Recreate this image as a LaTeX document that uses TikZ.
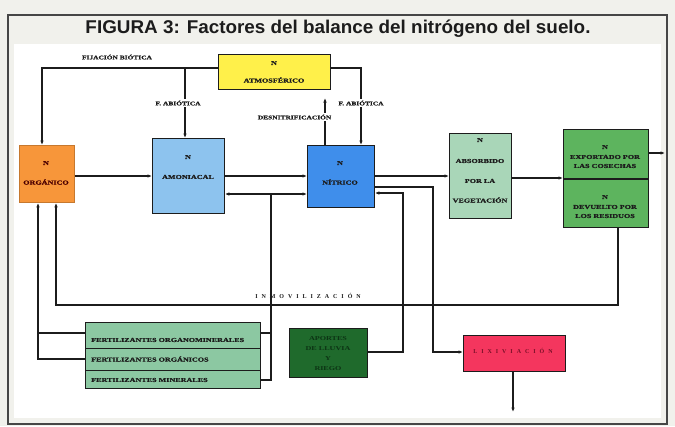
\documentclass[tikz,border=0pt]{standalone}
\usepackage{fontspec}
\usepackage{graphicx}
\usetikzlibrary{arrows.meta}
\newfontfamily\titlefont{Liberation Sans}
\newfontfamily\bx[FakeStretch=1.35,FakeBold=1.2]{Liberation Serif}
\newfontfamily\bxplain[FakeStretch=1.35]{Liberation Serif}
\newfontfamily\spc[LetterSpace=66]{Liberation Serif}
\definecolor{bg}{HTML}{F1F1EC}
\definecolor{yel}{HTML}{FFF04A}
\definecolor{ora}{HTML}{F7963A}
\definecolor{lblue}{HTML}{8DC3EE}
\definecolor{dblue}{HTML}{3F8EEB}
\definecolor{pgreen}{HTML}{A9D6B8}
\definecolor{mgreen}{HTML}{5DB45E}
\definecolor{fgreen}{HTML}{8CC8A2}
\definecolor{dgreen}{HTML}{1F6A2C}
\definecolor{rred}{HTML}{F4365E}
\definecolor{ink}{HTML}{1C1C1C}
\definecolor{dtxt}{HTML}{0C3414}
\definecolor{rtxt}{HTML}{7A1028}
\begin{document}
\begin{tikzpicture}[x=1pt,y=-1pt,
  box/.style={draw=ink, line width=0.9pt, anchor=north west, inner sep=0pt},
  txt/.style={font=\bx\bfseries\fontsize{6}{7}\selectfont, text=ink, inner sep=0pt},
  dtx/.style={font=\bxplain\bfseries\fontsize{6}{7}\selectfont, text=dtxt, inner sep=0pt},
  lab/.style={font=\bx\bfseries\fontsize{5.5}{6}\selectfont, text=ink, inner sep=1.5pt},
  ln/.style={line width=1.1pt, draw=ink},
  arr/.style={line width=1.1pt, draw=ink, -{Latex[length=4.5pt,width=3.6pt]}},
  arrb/.style={line width=1.1pt, draw=ink, {Latex[length=4.5pt,width=3.6pt]}-{Latex[length=4.5pt,width=3.6pt]}}]
\useasboundingbox (0,0) rectangle (675,426);
\fill[bg] (0,0) rectangle (675,426);
\draw[gray!55!black, line width=1.2pt] (8,15) rectangle (667,424);
\fill[white] (14,44) rectangle (661,418);

% title
\node[font=\titlefont\bfseries\fontsize{18.5}{20}\selectfont, text=ink] (title) at (338,29)
  {\resizebox{505pt}{\height}{FIGURA 3: Factores del balance del nitrógeno del suelo.}};

% boxes
\node[box, fill=yel, minimum width=112pt, minimum height=35pt] (atm) at (218,54) {};
\node[box, fill=ora, draw=ora!80!black, minimum width=55pt, minimum height=57pt] (org) at (19,145) {};
\node[box, fill=lblue, minimum width=72pt, minimum height=75pt] (amo) at (152,138) {};
\node[box, fill=dblue, minimum width=67pt, minimum height=62pt] (nit) at (307,145) {};
\node[box, fill=pgreen, minimum width=62pt, minimum height=85pt] (abs) at (449,133) {};
\node[box, fill=mgreen, minimum width=85pt, minimum height=98pt] (grn) at (563,129) {};
\node[box, fill=fgreen, minimum width=175pt, minimum height=26pt] (f1) at (85,322) {};
\node[box, fill=fgreen, minimum width=175pt, minimum height=22pt] (f2) at (85,348) {};
\node[box, fill=fgreen, minimum width=175pt, minimum height=18pt] (f3) at (85,370) {};
\node[box, fill=dgreen, minimum width=78pt, minimum height=49pt] (dgr) at (289,328) {};
\node[box, fill=rred, minimum width=102pt, minimum height=36pt] (lix) at (463,335) {};
\draw[ln] (grn.west |- 0,179) -- (grn.east |- 0,179);

% box texts
\node[txt] (atmN) at (274,63) {N};
\node[txt] (atmT) at (274,80) {ATMOSFÉRICO};
\node[txt, text=black!70!red] (orgN) at (46,163) {N};
\node[txt, text=black!70!red] (orgT) at (46,182) {ORGÁNICO};
\node[txt] (amoN) at (188,157) {N};
\node[txt] (amoT) at (188,177) {AMONIACAL};
\node[txt] (nitN) at (340,163) {N};
\node[txt] (nitT) at (340,182) {NÍTRICO};
\node[txt] (absN) at (480,140) {N};
\node[txt] (absA) at (480,161) {ABSORBIDO};
\node[txt] (absB) at (480,181) {POR LA};
\node[txt] (absC) at (480,200) {VEGETACIÓN};
\node[txt] (gaN) at (605,147) {N};
\node[txt] (gaA) at (605,157) {EXPORTADO POR};
\node[txt] (gaB) at (605,166) {LAS COSECHAS};
\node[txt] (gbN) at (605,197) {N};
\node[txt] (gbA) at (605,207) {DEVUELTO POR};
\node[txt] (gbB) at (605,216) {LOS RESIDUOS};
\node[txt, anchor=west] (f1t) at (91,340) {FERTILIZANTES ORGANOMINERALES};
\node[txt, anchor=west] (f2t) at (91,359) {FERTILIZANTES ORGÁNICOS};
\node[txt, anchor=west] (f3t) at (91,380) {FERTILIZANTES MINERALES};
\node[dtx] (dgA) at (328,339) {APORTES};
\node[dtx] (dgB) at (328,349) {DE LLUVIA};
\node[dtx] (dgC) at (328,359) {Y};
\node[dtx] (dgD) at (328,369) {RIEGO};
\node[txt, text=rtxt, font=\spc\bfseries\fontsize{6}{7}\selectfont] (lixT) at (513,351) {LIXIVIACIÓN};

% top connectors
\coordinate (tl) at (42,68);
\coordinate (tr) at (361,68);
\coordinate (fa) at (185,68);
\coordinate (dn) at (325,98);
\draw[arr] (atm.west |- tl) -- (tl) -- (tl |- org.north);
\draw[arr] (atm.east |- tr) -- (tr) -- (tr |- nit.north);
\draw[arr] (fa) -- (fa |- amo.north);
\draw[arr] (nit.north -| dn) -- (dn);
\node[lab] (fijl) at (117,57) {FIJACIÓN BIÓTICA};
\node[lab, fill=white] (fal) at (178,103) {F. ABIÓTICA};
\node[lab, fill=white] (far) at (361,103) {F. ABIÓTICA};
\node[lab, fill=white, anchor=east] (dnl) at (333,117) {DESNITRIFICACIÓN};

% main flow
\draw[arr] (org.east |- 0,176) -- (amo.west |- 0,176);
\draw[arr] (amo.east |- 0,176) -- (nit.west |- 0,176);
\draw[arrb] (amo.east |- 0,194) -- (nit.west |- 0,194);
\draw[arr] (nit.east |- 0,176) -- (abs.west |- 0,176);
\draw[arr] (abs.east |- 0,178) -- (grn.west |- 0,178);
\coordinate (go) at (665,153);
\draw[arr] (grn.east |- go) -- (go);

% fertilizers
\coordinate (fb) at (271,194);
\draw[ln] (f3.east |- 0,380) -- (fb |- 0,380) -- (fb);
\draw[ln] (f1.east |- 0,333) -- (fb |- 0,333);
\coordinate (fl) at (38,359);
\draw[arr] (f2.west |- fl) -- (fl) -- (fl |- org.south);
\draw[ln] (f1.west |- 0,333) -- (fl |- 0,333);

% inmovilizacion
\coordinate (im) at (618,305);
\coordinate (il) at (56,305);
\draw[arr] (grn.south -| im) -- (im) -- (il) -- (il |- org.south);
\node[lab, font=\spc\bfseries\fontsize{6}{7}\selectfont] (inl) at (308,296) {INMOVILIZACIÓN};

% water -> nitrico
\coordinate (dw) at (403,193);
\draw[arr] (dgr.east |- 0,352) -- (dw |- 0,352) -- (dw) -- (nit.east |- dw);

% nitrico -> lixiviacion
\coordinate (lx) at (433,187);
\draw[arr] (nit.east |- lx) -- (lx) -- (lx |- 0,352) -- (lix.west |- 0,352);
\coordinate (ld) at (513,412);
\draw[arr] (lix.south -| ld) -- (ld);
\end{tikzpicture}
\end{document}
